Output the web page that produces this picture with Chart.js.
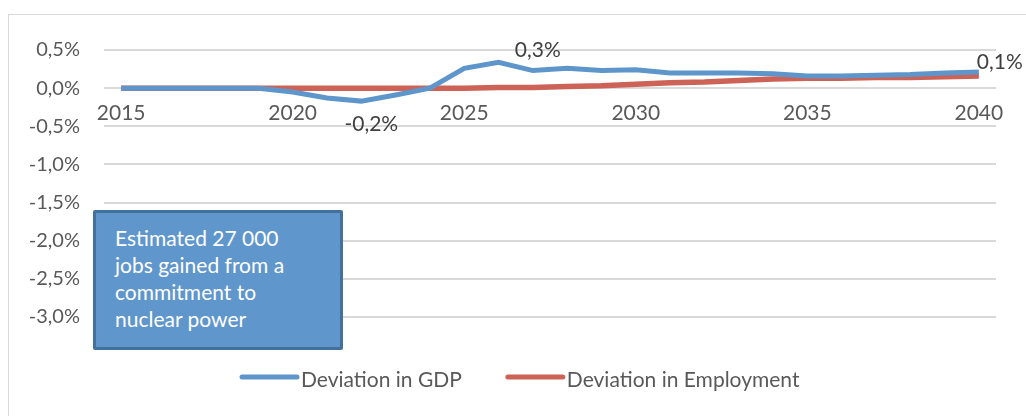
<!DOCTYPE html>
<html>
<head>
<meta charset="utf-8">
<script src="https://cdn.jsdelivr.net/npm/chart.js@4.4.0/dist/chart.umd.min.js"></script>
<style>
  html, body { margin: 0; padding: 0; background: #fff; }
  #wrap { position: relative; width: 1026px; height: 416px; overflow: hidden; font-family: Lato, sans-serif; }
  #frame { position: absolute; left: 8px; top: 14px; width: 1100px; height: 500px; border: 1px solid #D9D9D9; }
  #chart { position: absolute; left: 0; top: 0; }
  #note {
    position: absolute; left: 93px; top: 210px; width: 250px; height: 140px; box-sizing: border-box;
    background: #5F96CC; border: 3px solid #41719C; border-radius: 2px;
    color: #fff; font-size: 21px; line-height: 27px; padding: 11px 0 0 19px;
  }
</style>
</head>
<body>
<div id="wrap">
  <div id="frame"></div>
  <canvas id="chart" width="1026" height="416"></canvas>
  <div id="note">Estimated 27 000<br>jobs gained from a<br>commitment to<br>nuclear power</div>
</div>
<script>
var years = ['2015','2016','2017','2018','2019','2020','2021','2022','2023','2024','2025','2026','2027',
             '2028','2029','2030','2031','2032','2033','2034','2035','2036','2037','2038','2039','2040'];
var gdp = [0, 0, 0, 0, 0, -0.05, -0.13, -0.17, -0.09, 0.0, 0.26, 0.34, 0.23,
           0.26, 0.23, 0.24, 0.20, 0.20, 0.20, 0.19, 0.16, 0.16, 0.17, 0.18, 0.20, 0.21];
var employment = [0, 0, 0, 0, 0, 0, 0, 0, 0, 0, 0, 0.01, 0.01,
                  0.02, 0.03, 0.05, 0.07, 0.08, 0.10, 0.12, 0.13, 0.13, 0.14, 0.14, 0.15, 0.16];
var seriesNames = ['Deviation in GDP', 'Deviation in Employment'];
var seriesColors = ['#5E96CC', '#CD6257'];
var pointLabels = [
    { series: 0, index: 7, text: '-0,2%', dx: 10, dy: 23 },
    { series: 0, index: 12, text: '0,3%', dx: 5, dy: -20 },
    { series: 1, index: 25, text: '0,1%', dx: 21, dy: -14 }
];

var fmt = function (v) {
    return v.toFixed(1).replace('.', ',') + '%';
};

var labelPlugin = {
    id: 'extras',
    afterDatasetsDraw: function (chart) {
        var ctx = chart.ctx;
        ctx.save();
        ctx.font = '21px Lato';
        ctx.fillStyle = '#404040';
        ctx.textAlign = 'center';
        ctx.textBaseline = 'middle';
        pointLabels.forEach(function (l) {
            var pt = chart.getDatasetMeta(l.series).data[l.index];
            ctx.fillText(l.text, pt.x + l.dx, pt.y + l.dy);
        });

        // legend
        var x = 242, y = 377;
        ctx.textAlign = 'left';
        ctx.font = '21px Lato';
        ctx.fillStyle = '#595959';
        ctx.lineCap = 'round';
        ctx.lineWidth = 5;
        for (var i = 0; i < seriesNames.length; i++) {
            ctx.strokeStyle = seriesColors[i];
            ctx.beginPath();
            ctx.moveTo(x, y);
            ctx.lineTo(x + 55, y);
            ctx.stroke();
            ctx.fillText(seriesNames[i], x + 59, y + 3);
            x += 59 + ctx.measureText(seriesNames[i]).width + 46;
        }
        ctx.restore();
    }
};

var ctx = document.getElementById('chart').getContext('2d');
var config = {
    type: 'line',
    data: {
        labels: years,
        datasets: [{
            label: seriesNames[0],
            data: gdp,
            borderColor: seriesColors[0],
            borderWidth: 5,
            pointRadius: 0,
            tension: 0
        }, {
            label: seriesNames[1],
            data: employment,
            borderColor: seriesColors[1],
            borderWidth: 5.5,
            pointRadius: 0,
            tension: 0
        }]
    },
    options: {
        responsive: false,
        animation: false,
        layout: { padding: { left: 8, right: 30, top: 50, bottom: 99 } },
        plugins: {
            legend: { display: false },
            tooltip: { enabled: false }
        },
        scales: {
            x: {
                position: { y: 0 },
                offset: true,
                grid: { display: false, drawTicks: false },
                border: { display: false },
                ticks: {
                    autoSkip: false,
                    maxRotation: 0,
                    padding: 12,
                    color: '#595959',
                    font: { family: 'Lato', size: 21 },
                    callback: function (v, i) { return i % 5 === 0 ? years[i] : ''; }
                }
            },
            y: {
                min: -3,
                max: 0.5,
                afterFit: function (scale) { scale.width = 96; },
                grid: { color: '#D9D9D9', lineWidth: 2, drawTicks: false },
                border: { display: false },
                ticks: {
                    stepSize: 0.5,
                    padding: 24,
                    color: '#595959',
                    font: { family: 'Lato', size: 20 },
                    callback: function (v) { return fmt(v); }
                }
            }
        }
    },
    plugins: [labelPlugin]
};
window.myLine = new Chart(ctx, config);
</script>
</body>
</html>
